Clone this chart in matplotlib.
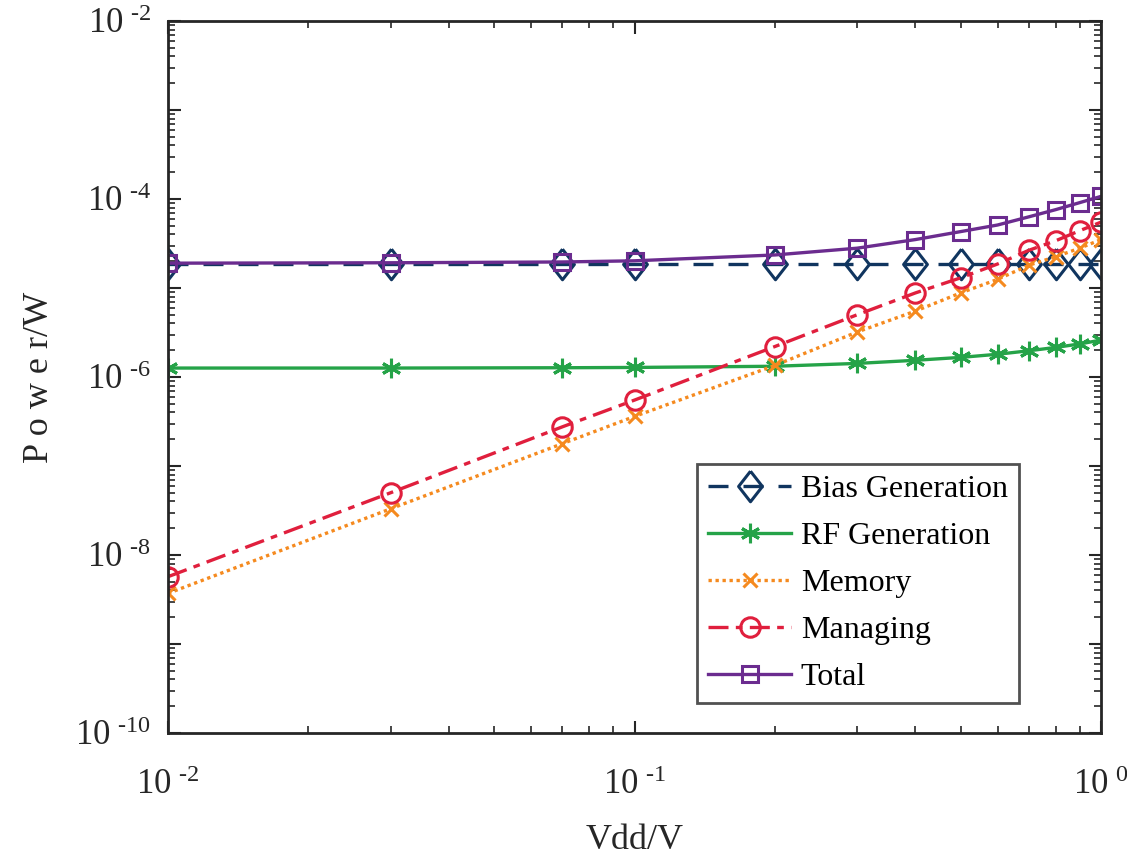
import matplotlib
matplotlib.use("Agg")
import matplotlib.pyplot as plt
import matplotlib.ticker as mticker
import numpy as np

plt.rcParams['font.family'] = ['Liberation Serif', 'DejaVu Serif']
plt.rcParams['mathtext.fontset'] = 'custom'
plt.rcParams['mathtext.rm'] = 'Liberation Serif'
plt.rcParams['mathtext.it'] = 'Liberation Serif'

# supply voltage (V)
vdd = [0.01, 0.03, 0.07, 0.1, 0.2, 0.3, 0.4, 0.5, 0.6, 0.7, 0.8, 0.9, 1.0]

# power (W) per block
bias = [1.86e-5] * 13
rf = [1.26e-6, 1.26e-6, 1.27e-6, 1.28e-6, 1.32e-6, 1.42e-6, 1.54e-6,
      1.66e-6, 1.8e-6, 1.97e-6, 2.15e-6, 2.35e-6, 2.6e-6]
memory = [3.7e-9, 3.3e-8, 1.78e-7, 3.6e-7, 1.35e-6, 3.2e-6, 5.5e-6,
          8.8e-6, 1.25e-5, 1.8e-5, 2.25e-5, 2.8e-5, 3.5e-5]
managing = [5.7e-9, 5.0e-8, 2.75e-7, 5.5e-7, 2.2e-6, 5.0e-6, 8.8e-6,
            1.3e-5, 1.86e-5, 2.65e-5, 3.4e-5, 4.4e-5, 5.5e-5]
total = [1.9e-5, 1.92e-5, 1.96e-5, 2.02e-5, 2.35e-5, 2.8e-5, 3.5e-5,
         4.3e-5, 5.1e-5, 6.3e-5, 7.6e-5, 9.1e-5, 1.07e-4]

# MATLAB-like diamond, a bit taller than wide
diamond = [(0, 1), (0.78, 0), (0, -1), (-0.78, 0), (0, 1)]

# name, values, colour, linestyle, marker, markersize
series = [
    ("Bias Generation", bias, "#10355f", (0, (6, 4.5)), diamond, 22),
    ("RF Generation", rf, "#25a348", "-", (6, 2, 0), 14),
    ("Memory", memory, "#f58a1f", (0, (1, 1.1)), "x", 10),
    ("Managing", managing, "#e01f3d", (0, (6, 2.2, 2, 2.2)), "o", 14),
    ("Total", total, "#6b2c8f", "-", "s", 11),
]

fig = plt.figure(figsize=(11.27, 8.56), dpi=100)
ax = fig.add_axes([0.149, 0.1437, 0.828, 0.8318])

for name, vals, col, ls, mk, ms in series:
    ax.plot(vdd, vals, color=col, linestyle=ls, linewidth=2.4, marker=mk,
            markersize=ms, markerfacecolor="none", markeredgecolor=col,
            markeredgewidth=2.2, label=name)

ax.set_xscale("log")
ax.set_yscale("log")
ax.set_xlim(0.01, 1)
ax.set_ylim(1e-10, 1e-2)


def x_fmt(v, pos):
    e = int(round(np.log10(v)))
    return r"$10\;{}^{\text{%d}}$" % e


def y_fmt(v, pos):
    # only every second decade is labelled
    e = int(round(np.log10(v)))
    if e % 2 != 0:
        return ""
    return r"$10\;{}^{\text{%d}}$" % e


ax.xaxis.set_major_locator(mticker.LogLocator(base=10, numticks=10))
ax.xaxis.set_major_formatter(mticker.FuncFormatter(x_fmt))
ax.xaxis.set_minor_locator(mticker.LogLocator(base=10, subs=np.arange(2, 10), numticks=20))
ax.xaxis.set_minor_formatter(mticker.NullFormatter())
ax.yaxis.set_major_locator(mticker.LogLocator(base=10, numticks=20))
ax.yaxis.set_major_formatter(mticker.FuncFormatter(y_fmt))
ax.yaxis.set_minor_locator(mticker.LogLocator(base=10, subs=np.arange(2, 10), numticks=40))
ax.yaxis.set_minor_formatter(mticker.NullFormatter())

ax.tick_params(which="both", direction="in", top=True, right=True,
               colors="#262626", labelsize=25)
ax.tick_params(which="major", length=9, width=1.5)
ax.tick_params(which="minor", length=5, width=1.2)
ax.tick_params(axis="x", pad=26)
ax.tick_params(axis="y", pad=12)
for s in ax.spines.values():
    s.set_linewidth(2.0)
    s.set_color("#262626")

ax.set_xlabel("Vdd/V", fontsize=26, color="#262626", labelpad=16)
ax.set_ylabel("P o w e r/W", fontsize=26, color="#262626", labelpad=14)

leg = ax.legend(loc="lower right", bbox_to_anchor=(0.912, 0.042), fontsize=23,
                frameon=True, fancybox=False, edgecolor="#262626",
                handlelength=2.6, handletextpad=0.3, labelspacing=0.55,
                borderpad=0.35, borderaxespad=0.0)
leg.get_frame().set_linewidth(2.0)

fig.savefig("out.png", dpi=100)
